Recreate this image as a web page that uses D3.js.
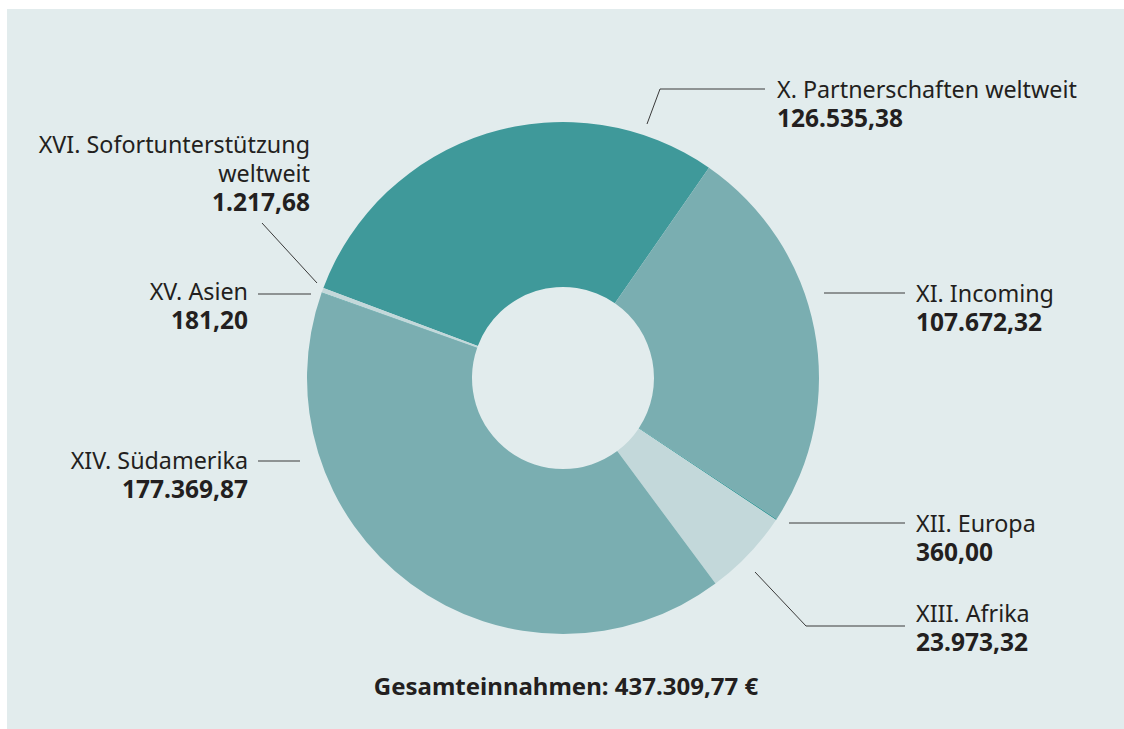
<!DOCTYPE html>
<html>
<head>
<meta charset="utf-8">
<script src="https://cdn.jsdelivr.net/npm/d3@7"></script>
<style>
  html, body { margin: 0; padding: 0; background: #fff; }
  svg { display: block; }
  text { font-family: "Noto Sans", sans-serif; fill: #231f20; }
</style>
</head>
<body>
<svg id="chart" width="1124" height="729"></svg>
<script>
// data
const categories = [
  'X. Partnerschaften weltweit',
  'XI. Incoming',
  'XII. Europa',
  'XIII. Afrika',
  'XIV. Südamerika',
  'XV. Asien',
  'XVI. Sofortunterstützung weltweit'
]
const values = [126535.38, 107672.32, 360.0, 23973.32, 177369.87, 181.2, 1217.68]
const totalLabel = 'Gesamteinnahmen: 437.309,77 €'

const colors = ['#3f999a', '#7aaeb1', '#3f999a', '#c3d8da', '#7aaeb1', '#3f999a', '#c3d8da']

// label layout: text lines, anchor, text position, leader polyline
const labelLayout = [
  { lines: ['X. Partnerschaften weltweit'], anchor: 'start', x: 777, y: 98, leader: [[647, 124], [660, 89], [765, 89]] },
  { lines: ['XI. Incoming'], anchor: 'start', x: 916, y: 302, leader: [[824, 293], [905, 293]] },
  { lines: ['XII. Europa'], anchor: 'start', x: 916, y: 532, leader: [[789, 523], [905, 523]] },
  { lines: ['XIII. Afrika'], anchor: 'start', x: 916, y: 622, leader: [[755, 572], [806, 626], [905, 626]] },
  { lines: ['XIV. Südamerika'], anchor: 'end', x: 248, y: 469, leader: [[258, 461], [300, 461]] },
  { lines: ['XV. Asien'], anchor: 'end', x: 248, y: 300, leader: [[258, 294], [311, 294]] },
  { lines: ['XVI. Sofortunterstützung', 'weltweit'], anchor: 'end', x: 310, y: 153, leader: [[262, 223], [317, 283]] }
]

const fmt = d3.formatLocale({ decimal: ',', thousands: '.', grouping: [3] }).format(',.2f')

const width = 1124
const height = 729
const cx = 563
const cy = 378
const outerR = 256
const innerR = 91
const startDeg = -69.4

const svg = d3.select('#chart')

svg.append('rect')
  .attr('x', 7).attr('y', 9)
  .attr('width', width - 7).attr('height', height - 9)
  .attr('fill', '#e2eced')

const pie = d3.pie()
  .sort(null)
  .value((d) => d)
  .startAngle(startDeg * Math.PI / 180)
  .endAngle(startDeg * Math.PI / 180 + 2 * Math.PI)

const arc = d3.arc().innerRadius(innerR).outerRadius(outerR)

const g = svg.append('g').attr('transform', `translate(${cx},${cy})`)

g.selectAll('path')
  .data(pie(values))
  .join('path')
  .attr('d', arc)
  .attr('fill', (d, i) => colors[i])

// leaders
const line = d3.line()
svg.append('g')
  .selectAll('path')
  .data(labelLayout)
  .join('path')
  .attr('d', (d) => line(d.leader))
  .attr('fill', 'none')
  .attr('stroke', '#3a3a3a')
  .attr('stroke-width', 1)

// labels
const lineH = 29
const lbl = svg.append('g')
  .selectAll('text')
  .data(labelLayout)
  .join('text')
  .attr('text-anchor', (d) => d.anchor)
  .style('font-size', '23.3px')

lbl.each(function (d, i) {
  const t = d3.select(this)
  d.lines.forEach((s, k) => {
    t.append('tspan')
      .attr('x', d.x)
      .attr('y', d.y + k * lineH)
      .text(s)
  })
  t.append('tspan')
    .attr('x', d.x)
    .attr('y', d.y + d.lines.length * lineH)
    .style('font-weight', 'bold')
    .style('font-size', '24.5px')
    .text(fmt(values[i]))
})

svg.append('text')
  .attr('x', 566)
  .attr('y', 695)
  .attr('text-anchor', 'middle')
  .style('font-size', '24px')
  .style('font-weight', 'bold')
  .text(totalLabel)
</script>
</body>
</html>
